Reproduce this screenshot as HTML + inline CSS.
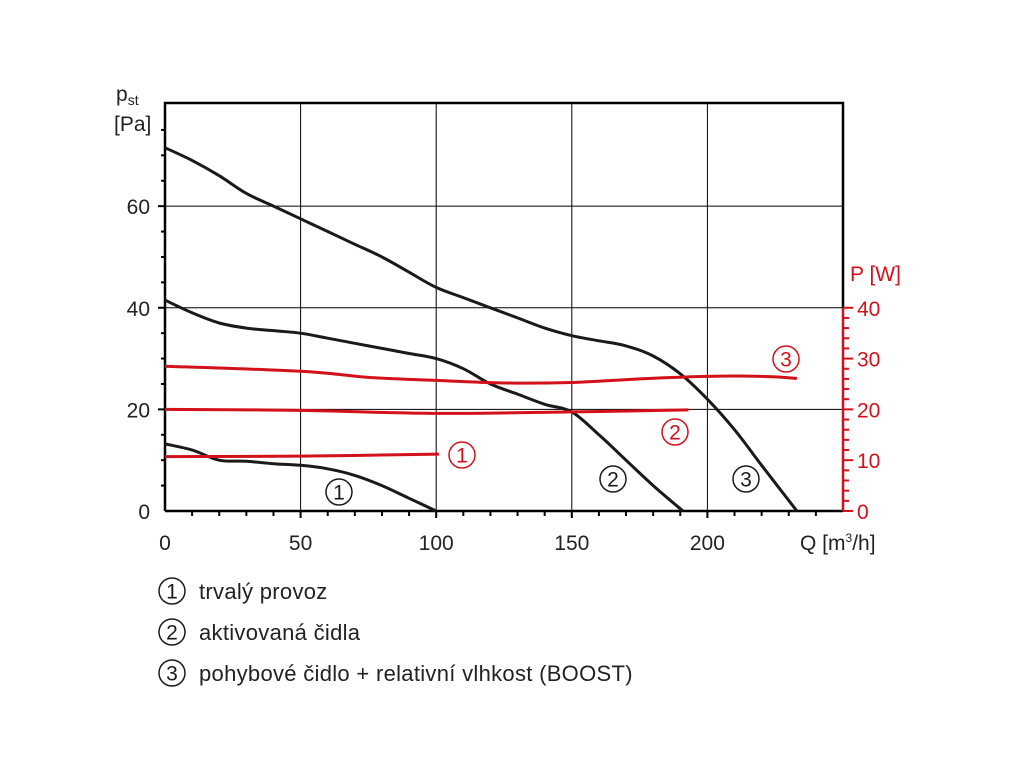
<!DOCTYPE html>
<html><head><meta charset="utf-8"><style>
body{margin:0;background:#fff;}
svg{display:block;font-family:"Liberation Sans",sans-serif;}
</style></head><body>
<svg id="chart" width="1024" height="768"></svg>
<script>
const qTicks=[0,50,100,150,200];
const pTicks=[0,20,40,60];
const wTicks=[0,10,20,30,40];
const curve1Q=[0,10,20,30,40,50,60,70,80,90,100];
const curve1P=[13.2,12,10,9.8,9.3,9,8.3,7,5,2.5,0];
const curve2Q=[0,10,20,30,40,50,60,70,80,90,100,110,120,130,140,150,160,170,180,191];
const curve2P=[41.5,39,37,36,35.5,35,34,33,32,31,30,28,25,23,21,19.5,15,10,5,0];
const curve3Q=[0,10,20,30,40,50,60,70,80,90,100,110,120,130,140,150,160,170,180,190,200,210,220,233];
const curve3P=[71.5,69,66,62.5,60,57.5,55,52.5,50,47,44,42,40,38,36,34.5,33.5,32.5,30.5,27,22,16,9,0];
const power1Q=[0,50,101];
const power1W=[10.7,10.8,11.2];
const power2Q=[0,50,100,150,193];
const power2W=[20,19.8,19.2,19.5,19.9];
const power3Q=[0,50,75,100,125,150,175,200,220,233];
const power3W=[28.5,27.5,26.3,25.7,25.2,25.3,26,26.5,26.5,26.1];
const legendItems=["trvalý provoz","aktivovaná čidla","pohybové čidlo + relativní vlhkost (BOOST)"];

const X0=165,X1=843,Y0=511,YT=103;
const xs=q=>X0+q*(X1-X0)/250;
const yp=p=>Y0-p*(Y0-YT)/80.3;
const yw=w=>Y0-w*(Y0-YT)/80.3;
const svg=document.getElementById('chart');
const NS='http://www.w3.org/2000/svg';
function mk(tag,attrs,parent){const e=document.createElementNS(NS,tag);for(const k in attrs)e.setAttribute(k,attrs[k]);(parent||svg).appendChild(e);return e;}
const RED='#d2111b';
const FS=21;

qTicks.slice(1).forEach(q=>{
  const l=mk('line',{x1:xs(q),x2:xs(q),y1:YT,y2:Y0,stroke:'#000','stroke-width':1});
  
  
});
pTicks.slice(1).forEach(p=>{
  const l=mk('line',{x1:X0,x2:X1,y1:yp(p),y2:yp(p),stroke:'#000','stroke-width':1});
  
  
});
const frame=mk('path',{d:`M${X0},${Y0} L${X0},${YT} L${X1},${YT} L${X1},${yw(40)}`,fill:'none',stroke:'#000','stroke-width':2.5});


const xa=mk('line',{x1:X0,x2:X1,y1:Y0,y2:Y0,stroke:'#000','stroke-width':2.5});


const ra=mk('line',{x1:X1,x2:X1,y1:yw(40),y2:Y0,stroke:RED,'stroke-width':2.5});



for(let q=10;q<250;q+=10){const t=mk('line',{x1:xs(q),x2:xs(q),y1:Y0,y2:Y0+(q%50==0?7:5),stroke:'#000','stroke-width':2});
}
for(let p=5;p<80;p+=5){const t=mk('line',{x1:X0-(p%20==0?7:4),x2:X0,y1:yp(p),y2:yp(p),stroke:'#000','stroke-width':2});
}
for(let w=2;w<=40;w+=2){const t=mk('line',{x1:X1,x2:X1+(w%10==0?10:6),y1:yw(w),y2:yw(w),stroke:RED,'stroke-width':2});
}
{const t=mk('line',{x1:X1,x2:X1+10,y1:Y0,y2:Y0,stroke:RED,'stroke-width':2});}

qTicks.forEach(q=>{const t=mk('text',{x:xs(q),y:550,'text-anchor':'middle','font-size':FS,fill:'#222'});t.textContent=q;
});
pTicks.forEach(p=>{const t=mk('text',{x:150,y:yp(p)+8,'text-anchor':'end','font-size':FS,fill:'#222'});t.textContent=p;
});
wTicks.forEach(w=>{const t=mk('text',{x:857,y:yw(w)+8,'font-size':FS,fill:RED});t.textContent=w;
});

const yt=mk('text',{x:116,y:101,'font-size':FS,fill:'#222'});yt.innerHTML='p<tspan font-size="14" dy="4">st</tspan>';

const yt2=mk('text',{x:114,y:131,'font-size':FS,fill:'#222'});yt2.textContent='[Pa]';

const xt=mk('text',{x:800,y:550,'font-size':FS,fill:'#222'});xt.innerHTML='Q [m<tspan font-size="12" dy="-8">3</tspan><tspan dy="8">/h]</tspan>';

const wt=mk('text',{x:850,y:281,'font-size':FS,fill:RED});wt.textContent='P [W]';


function path(qs,vs,fy,color,name){
  const P=qs.map((q,i)=>[xs(q),fy(vs[i])]);
  let d='M'+P[0][0].toFixed(1)+','+P[0][1].toFixed(1);
  for(let i=0;i<P.length-1;i++){
    const p0=P[Math.max(0,i-1)],p1=P[i],p2=P[i+1],p3=P[Math.min(P.length-1,i+2)];
    const c1=[p1[0]+(p2[0]-p0[0])/6,p1[1]+(p2[1]-p0[1])/6];
    const c2=[p2[0]-(p3[0]-p1[0])/6,p2[1]-(p3[1]-p1[1])/6];
    d+=` C${c1[0].toFixed(1)},${c1[1].toFixed(1)} ${c2[0].toFixed(1)},${c2[1].toFixed(1)} ${p2[0].toFixed(1)},${p2[1].toFixed(1)}`;
  }
  const p=mk('path',{d:d,fill:'none',stroke:color,'stroke-width':3,'stroke-linejoin':'round'});
  
  
}
path(curve1Q,curve1P,yp,'#1a1a1a','pressure-curve-1');
path(curve2Q,curve2P,yp,'#1a1a1a','pressure-curve-2');
path(curve3Q,curve3P,yp,'#1a1a1a','pressure-curve-3');
path(power1Q,power1W,yw,RED,'power-curve-1');
path(power2Q,power2W,yw,RED,'power-curve-2');
path(power3Q,power3W,yw,RED,'power-curve-3');

function circ(x,y,n,color,name){
  const g=mk('g',{});
  
  
  mk('circle',{cx:x,cy:y,r:13,fill:'none',stroke:color,'stroke-width':1.5},g);
  const t=mk('text',{x:x,y:y+7.5,'text-anchor':'middle','font-size':FS,fill:color},g);t.textContent=n;
}
circ(339,492,'1','#1a1a1a','curve-label-1');
circ(613,479,'2','#1a1a1a','curve-label-2');
circ(746,479,'3','#1a1a1a','curve-label-3');
circ(462,455,'1',RED,'power-label-1');
circ(675,432,'2',RED,'power-label-2');
circ(786,359,'3',RED,'power-label-3');

legendItems.forEach((s,i)=>{
  const y=591+i*41;
  circ(172,y,String(i+1),'#1a1a1a','legend-marker');
  const t=mk('text',{x:199,y:y+8,'font-size':22,'letter-spacing':'0.3',fill:'#222'});t.textContent=s;
  
  
});
</script>
</body></html>
